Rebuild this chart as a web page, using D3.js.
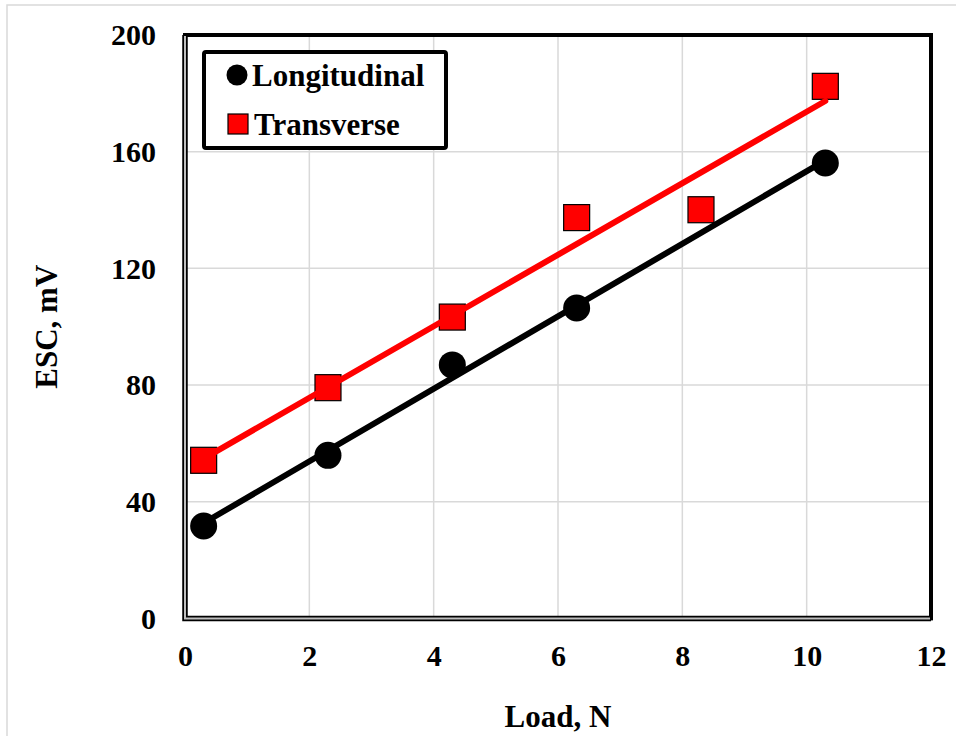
<!DOCTYPE html>
<html lang="en">
<head>
    <meta charset="utf-8">
    <title>ESC vs Load</title>
    <script src="https://d3js.org/d3.v7.min.js"></script>
    <style>
        body { margin: 0; background: #fff; }
        svg text { font-family: "Liberation Serif", "Times New Roman", serif; font-weight: bold; fill: #000; }
    </style>
</head>
<body>
    <svg id="chart" width="956" height="736"></svg>

    <script type="text/javascript">
        // data
        var loadLong = [0.3, 2.3, 4.3, 6.3, 10.3];
        var escLong = [31.7, 55.9, 86.9, 106.4, 156.1];
        var loadTrans = [0.3, 2.3, 4.3, 6.3, 8.3, 10.3];
        var escTrans = [54.2, 79.1, 103.3, 137.4, 140.1, 182.4];
        var xTicks = [0, 2, 4, 6, 8, 10, 12];
        var yTicks = [0, 40, 80, 120, 160, 200];
        var seriesNames = ["Longitudinal", "Transverse"];

        var width = 956, height = 736;
        var pLeft = 185, pRight = 931, pTop = 35, pBottom = 618.4;

        var svg = d3.select("#chart");

        var x = d3.scaleLinear().domain([0, 12]).range([pLeft, pRight]);
        var y = d3.scaleLinear().domain([0, 200]).range([pBottom, pTop]);

        // outer chart border
        svg.append("rect")
            .attr("x", 7).attr("y", 5)
            .attr("width", width).attr("height", height)
            .attr("fill", "none").attr("stroke", "#d9d9d9").attr("stroke-width", 1.5);

        // grid
        svg.append("g").selectAll("line")
            .data(xTicks.slice(1, -1))
            .enter().append("line")
            .attr("x1", function(d) { return x(d); }).attr("x2", function(d) { return x(d); })
            .attr("y1", pTop).attr("y2", pBottom)
            .attr("stroke", "#d9d9d9").attr("stroke-width", 1.5);
        svg.append("g").selectAll("line")
            .data(yTicks.slice(1, -1))
            .enter().append("line")
            .attr("x1", pLeft).attr("x2", pRight)
            .attr("y1", function(d) { return y(d); }).attr("y2", function(d) { return y(d); })
            .attr("stroke", "#d9d9d9").attr("stroke-width", 1.5);

        // axes (labels only, frame drawn separately)
        var xAxis = d3.axisBottom(x).tickValues(xTicks).tickSize(0).tickPadding(0);
        var gx = svg.append("g").attr("transform", "translate(0," + 666 + ")").call(xAxis);
        gx.select(".domain").remove();
        gx.selectAll("text").attr("dy", 0).attr("y", 0)
            .style("font-size", "30px").style("font-family", "'Liberation Serif', serif").style("font-weight", "bold");

        var yAxis = d3.axisLeft(y).tickValues(yTicks).tickSize(0).tickPadding(0);
        var gy = svg.append("g").attr("transform", "translate(" + 156 + ",0)").call(yAxis);
        gy.select(".domain").remove();
        gy.selectAll("text").attr("x", 0).attr("dy", "0.33em")
            .style("font-size", "30px").style("font-family", "'Liberation Serif', serif").style("font-weight", "bold");

        // plot frame
        svg.append("rect")
            .attr("x", pLeft).attr("y", pTop)
            .attr("width", pRight - pLeft).attr("height", pBottom - pTop)
            .attr("fill", "none").attr("stroke", "#000").attr("stroke-width", 4);
        svg.append("path")
            .attr("d", "M" + pLeft + "," + pTop + "V" + pBottom + "H" + pRight)
            .attr("fill", "none").attr("stroke", "#000").attr("stroke-width", 5.5);
        svg.append("path")
            .attr("d", "M" + pLeft + "," + (pTop + 1) + "V" + pBottom + "H" + (pRight - 1))
            .attr("fill", "none").attr("stroke", "#bfbfbf").attr("stroke-width", 2);

        // markers
        svg.append("g").selectAll("circle")
            .data(d3.zip(loadLong, escLong))
            .enter().append("circle")
            .attr("cx", function(d) { return x(d[0]); })
            .attr("cy", function(d) { return y(d[1]); })
            .attr("r", 13.5)
            .attr("fill", "#000");

        var sq = 26;
        svg.append("g").selectAll("rect")
            .data(d3.zip(loadTrans, escTrans))
            .enter().append("rect")
            .attr("x", function(d) { return x(d[0]) - sq / 2; })
            .attr("y", function(d) { return y(d[1]) - sq / 2; })
            .attr("width", sq).attr("height", sq)
            .attr("fill", "#ff0000").attr("stroke", "#000").attr("stroke-width", 1.2);

        // linear trendlines
        function fit(xs, ys) {
            var mx = d3.mean(xs), my = d3.mean(ys);
            var sxy = d3.sum(xs, function(v, i) { return (v - mx) * (ys[i] - my); });
            var sxx = d3.sum(xs, function(v) { return (v - mx) * (v - mx); });
            var b = sxy / sxx, a = my - b * mx;
            var x0 = d3.min(xs), x1 = d3.max(xs);
            return [[x0, a + b * x0], [x1, a + b * x1]];
        }
        var line = d3.line()
            .x(function(d) { return x(d[0]); })
            .y(function(d) { return y(d[1]); });

        svg.append("path")
            .attr("d", line(fit(loadTrans, escTrans)))
            .attr("stroke", "#ff0000").attr("stroke-width", 6).attr("stroke-linecap", "round").attr("fill", "none");
        svg.append("path")
            .attr("d", line(fit(loadLong, escLong)))
            .attr("stroke", "#000").attr("stroke-width", 6).attr("stroke-linecap", "round").attr("fill", "none");

        // legend
        svg.append("rect")
            .attr("x", 204).attr("y", 52)
            .attr("width", 242).attr("height", 96)
            .attr("rx", 2)
            .attr("fill", "#fff").attr("stroke", "#000").attr("stroke-width", 4);

        var leg = svg.append("g").selectAll("g")
            .data(seriesNames)
            .enter().append("g")
            .attr("transform", function(d, i) { return "translate(0," + (75 + i * 49) + ")"; });

        leg.filter(function(d, i) { return i === 0; })
            .append("circle")
            .attr("cx", 237).attr("cy", 0).attr("r", 10.5).attr("fill", "#000");
        leg.filter(function(d, i) { return i === 1; })
            .append("rect")
            .attr("x", 228).attr("y", -10).attr("width", 20).attr("height", 20)
            .attr("fill", "#ff0000").attr("stroke", "#000").attr("stroke-width", 1.2);

        leg.append("text")
            .attr("x", function(d, i) { return i === 0 ? 252 : 254; })
            .attr("y", 11)
            .style("font-size", "31px")
            .text(function(d) { return d; });

        // axis titles
        svg.append("text")
            .attr("x", (pLeft + pRight) / 2).attr("y", 727)
            .attr("text-anchor", "middle")
            .style("font-size", "31px")
            .text("Load, N");

        svg.append("text")
            .attr("transform", "translate(57," + ((pTop + pBottom) / 2) + ") rotate(-90)")
            .attr("text-anchor", "middle")
            .style("font-size", "31px")
            .text("ESC, mV");
    </script>
</body>
</html>
